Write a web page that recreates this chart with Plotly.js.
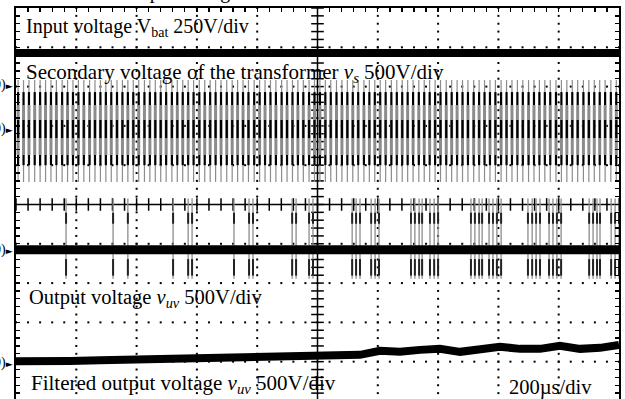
<!DOCTYPE html>
<html><head><meta charset="utf-8">
<script src="https://cdn.plot.ly/plotly-3.0.1.min.js"></script>
<style>html,body{margin:0;padding:0;background:#fff;}#chart{width:625px;height:399px;}</style>
</head><body><div id="chart"></div>
<script>
// ---- data (time in µs, voltages in V) ----
const inputT = [0, 500, 1000, 1500, 2000];
const inputV = [204, 204, 204, 204, 204];

const secStrokeT = [7,25,43,62,80,98,116,134,153,171,
 189,207,225,244,262,280,298,316,335,353,
 371,389,407,426,444,462,480,498,517,535,
 553,571,589,608,626,644,662,680,699,717,
 735,753,771,790,808,826,844,862,881,899,
 917,935,953,972,990,1008,1026,1044,1063,1081,
 1099,1117,1135,1154,1172,1190,1208,1226,1245,1263,
 1281,1299,1317,1336,1354,1372,1390,1408,1427,1445,
 1463,1481,1499,1518,1536,1554,1572,1590,1609,1627,
 1645,1663,1681,1700,1718,1736,1754,1772,1791,1809,
 1827,1845,1863,1882,1900,1918,1936,1954,1973,1991];
const secPeakV = [-674, 623];
const secBodyV = [-330, 305];
const secDwellV = [[305, 470], [-115, 115], [-460, -330]];

const outBaseT = [0, 2000];
const outBaseV = [0, 0];
const outStrokeT = [166, 322, 371, 521, 571, 584, 723, 773, 786, 916, 929, 972, 985,
 1115, 1128, 1141, 1178, 1191, 1204,
 1310, 1323, 1337, 1347, 1373, 1387, 1400,
 1509, 1522, 1536, 1546, 1569, 1582, 1595, 1609,
 1698, 1712, 1725, 1738, 1768, 1781, 1794, 1808,
 1901, 1914, 1927, 1937, 1974, 1987, 2000];
const outPeakV = [-370, 650];
const outDwellV = [[330, 470], [-330, -120]];

const filtT = [0,80,179,279,378,478,577,677,776,876,975,1075,1141,1207,1274,1340,1406,1473,1539,1605,1672,1738,1804,1871,1937,2000];
const filtV = [19,13,25,32,38,45,64,70,64,76,89,83,102,153,140,165,178,140,165,204,178,178,216,178,191,229];

// channel settings (V/div, ground position in div)
const chScale = {input:250, sec:500, out:500, filt:500};
const chGround = {input:3.04, sec:1.92, out:-1.15, filt:-4.03};

// ---- build ----
function toDiv(ch, v){ return chGround[ch] + v / chScale[ch]; }
function strokes(ch, times, lo, hi){
  const x=[], y=[];
  times.forEach(t=>{ x.push(t,t,null); y.push(toDiv(ch,lo),toDiv(ch,hi),null); });
  return {x,y};
}
const traces = [];
function addLine(obj, color, width){
  traces.push({type:'scatter', mode:'lines', x:obj.x, y:obj.y, line:{color:color, width:width}, hoverinfo:'skip', connectgaps:false});
}

// grid dots
const gx=[], gy=[];
for(let d=1; d<10; d++){ if(d===5) continue; for(let k=0;k<=50;k++){ gx.push(d*200); gy.push(-5 + k*0.2); } }
for(let d=-4; d<=4; d++){ if(d===0) continue; for(let k=0;k<=50;k++){ gx.push(k*40); gy.push(d); } }
traces.push({type:'scatter', mode:'markers', x:gx, y:gy, marker:{symbol:'square', size:2, color:'#000'}, hoverinfo:'skip'});
// center cross ticks
const cx=[], cy=[], vx=[], vy=[];
for(let k=0;k<=50;k++){ cx.push(k*40); cy.push(0); vx.push(1000); vy.push(-5 + k*0.2); }
traces.push({type:'scatter', mode:'markers', x:cx, y:cy, marker:{symbol:'line-ns', size:9, line:{color:'#000', width:1.5}}, hoverinfo:'skip'});
traces.push({type:'scatter', mode:'markers', x:vx, y:vy, marker:{symbol:'line-ew', size:9, line:{color:'#000', width:1.5}}, hoverinfo:'skip'});

// channel 1 input
addLine({x:inputT, y:inputV.map(v=>toDiv('input',v))}, '#000', 8);
// channel 2 secondary
addLine(strokes('sec', secStrokeT, secPeakV[0], secPeakV[1]), '#8c8c8c', 1.2);
addLine(strokes('sec', secStrokeT, secBodyV[0], secBodyV[1]), '#8c8c8c', 3);
secDwellV.forEach(s=> addLine(strokes('sec', secStrokeT, s[0], s[1]), '#000', 2.2));
// channel 3 output
addLine(strokes('out', outStrokeT, outPeakV[0], outPeakV[1]), '#8c8c8c', 1.3);
outDwellV.forEach(s=> addLine(strokes('out', outStrokeT, s[0], s[1]), '#222', 2));
addLine({x:outBaseT, y:outBaseV.map(v=>toDiv('out',v))}, '#000', 9);
// channel 4 filtered
addLine({x:filtT, y:filtV.map(v=>toDiv('filt',v))}, '#000', 8);

// pixel -> paper helpers
const L=16, W=603, T=8, H=391;
const px = x => (x-L)/W;
const py = y => (T+H-y)/H;
function label(text, x, y, size){
  return {text:text, xref:'paper', yref:'paper', x:px(x), y:py(y), xanchor:'left', yanchor:'middle', showarrow:false,
    font:{family:'"Liberation Serif", "Times New Roman", serif', size:size, color:'#000'}};
}
const annotations = [
  label('Input voltage', 131, -8, 20),
  label('Input voltage V<sub>bat</sub> 250V/div', 24, 28, 20),
  label('Secondary voltage of the transformer <i>v<sub>s</sub></i> 500V/div', 24, 73, 21),
  label('Output voltage <i>v<sub>uv</sub></i> 500V/div', 27, 298, 20.5),
  label('Filtered output voltage <i>v<sub>uv</sub></i> 500V/div', 29, 384, 21),
  label('200µs/div', 507, 387, 20.5)
];
[85,129,250,363].forEach(y=>{
  annotations.push({text:'0)<span style="font-family:DejaVu Sans;font-size:9px">►</span>', xref:'paper', yref:'paper', x:px(15), y:py(y), xanchor:'right', yanchor:'middle', showarrow:false, font:{family:'"Liberation Serif", serif', size:14, color:'#000'}});
});

const layout = {
  width:625, height:399, margin:{l:L, r:6, t:T, b:0}, showlegend:false,
  paper_bgcolor:'#fff', plot_bgcolor:'#fff',
  xaxis:{range:[0,2000], side:'top', showline:true, linecolor:'#000', linewidth:2, ticks:'inside', tick0:0, dtick:40, ticklen:4, tickwidth:1.3, tickcolor:'#000', showticklabels:false, showgrid:false, zeroline:false, fixedrange:true},
  yaxis:{range:[-4.95,5], showline:true, mirror:'ticks', linecolor:'#000', linewidth:2, ticks:'inside', tick0:0, dtick:0.2, ticklen:4, tickwidth:1.3, tickcolor:'#000', showticklabels:false, showgrid:false, zeroline:false, fixedrange:true},
  shapes:[
    {type:'line', xref:'x', yref:'paper', x0:1000, x1:1000, y0:0, y1:1, line:{color:'#000', width:1.5}, layer:'below'},
    {type:'line', xref:'paper', yref:'y', x0:0, x1:1, y0:0, y1:0, line:{color:'#000', width:1.5}, layer:'below'}
  ],
  annotations:annotations
};
Plotly.newPlot('chart', traces, layout, {staticPlot:true, displayModeBar:false});
</script></body></html>
